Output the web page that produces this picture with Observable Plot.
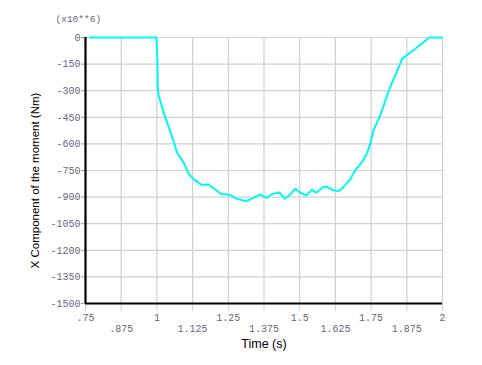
<!DOCTYPE html>
<html>
<head>
<meta charset="utf-8">
<script src="https://cdn.jsdelivr.net/npm/d3@7"></script>
<script src="https://cdn.jsdelivr.net/npm/@observablehq/plot@0.6"></script>
<style>
body{margin:0;background:#fff;}
#chart{position:relative;width:482px;height:365px;}
</style>
</head>
<body>
<div id="chart"></div>
<script>
const time = [0.765,0.998,1.002,1.003,1.006,1.029,1.052,1.070,1.093,1.111,1.134,1.155,1.181,1.201,1.225,1.254,1.280,1.313,1.338,1.362,1.383,1.406,1.429,1.447,1.467,1.484,1.502,1.523,1.543,1.558,1.581,1.593,1.618,1.636,1.653,1.674,1.694,1.718,1.735,1.747,1.758,1.782,1.814,1.860,1.904,1.954,1.998];
const moment = [0,0,-131,-281,-328,-450,-553,-647,-703,-769,-806,-830,-830,-853,-883,-887,-909,-923,-904,-885,-904,-881,-874,-909,-885,-853,-875,-891,-859,-875,-844,-840,-862,-866,-844,-806,-750,-703,-656,-600,-525,-440,-290,-118,-65,0,0];
const xTicksEven = [0.75,1,1.25,1.5,1.75,2];
const xTicksOdd = [0.875,1.125,1.375,1.625,1.875];
const yTicks = [0,-150,-300,-450,-600,-750,-900,-1050,-1200,-1350,-1500];
const xLabel = "Time (s)";
const yLabel = "X Component of the moment (Nm)";
const scaleNote = "(x10**6)";

const data = time.map((t,i)=>({t, v: moment[i]}));
const fmt = d => String(d).replace(/^0\./, ".").replace(/^-0\./,"-.");
const mono = "'Liberation Mono', 'DejaVu Sans Mono', monospace";
const tickColor = "#66667a";

const chart = Plot.plot({
  width: 482,
  height: 365,
  marginLeft: 85,
  marginRight: 40,
  marginTop: 37,
  marginBottom: 62,
  style: {fontFamily: mono, fontSize: "10px", background: "#fff"},
  x: {domain: [0.75, 2], type: "linear"},
  y: {domain: [-1500, 0], type: "linear"},
  marks: [
    Plot.gridX([...xTicksEven, ...xTicksOdd], {stroke: "#d0d0d0", strokeOpacity: 1, strokeWidth: 1.2}),
    Plot.gridY(yTicks, {stroke: "#d0d0d0", strokeOpacity: 1, strokeWidth: 1.2}),
    Plot.axisX(xTicksEven, {tickSize: 8, tickPadding: 2, stroke: "#d0d0d0", tickFormat: fmt, fill: tickColor, label: null, fontFamily: mono, fontSize: 10}),
    Plot.axisX(xTicksOdd, {tickSize: 8, tickPadding: 13, stroke: "#d0d0d0", tickFormat: fmt, fill: tickColor, label: null, fontFamily: mono, fontSize: 10}),
    Plot.axisY(yTicks, {tickSize: 4, tickPadding: 1, tickFormat: d => String(d), fill: tickColor, stroke: "#999", label: null, fontFamily: mono, fontSize: 10}),
    Plot.ruleX([0.75], {stroke: "#000", strokeWidth: 2.2}),
    Plot.ruleY([-1500], {stroke: "#000", strokeWidth: 2.2}),
    Plot.line(data, {x: "t", y: "v", stroke: "#00f8f8", strokeWidth: 2}),
    Plot.text([xLabel], {frameAnchor: "bottom", dy: 44, text: d => d, fontFamily: "'Liberation Sans', Arial, sans-serif", fontSize: 12.5, fill: "#000"}),
    Plot.text([yLabel], {frameAnchor: "left", dx: -50, dy: 10, rotate: -90, textAnchor: "middle", text: d => d, fontFamily: "'Liberation Sans', Arial, sans-serif", fontSize: 11.5, fill: "#000"}),
    Plot.text([scaleNote], {frameAnchor: "top-left", dx: -30, dy: -22, textAnchor: "start", text: d => d, fontFamily: mono, fontSize: 9.5, fill: tickColor})
  ]
});
document.getElementById("chart").appendChild(chart);
</script>
</body>
</html>
